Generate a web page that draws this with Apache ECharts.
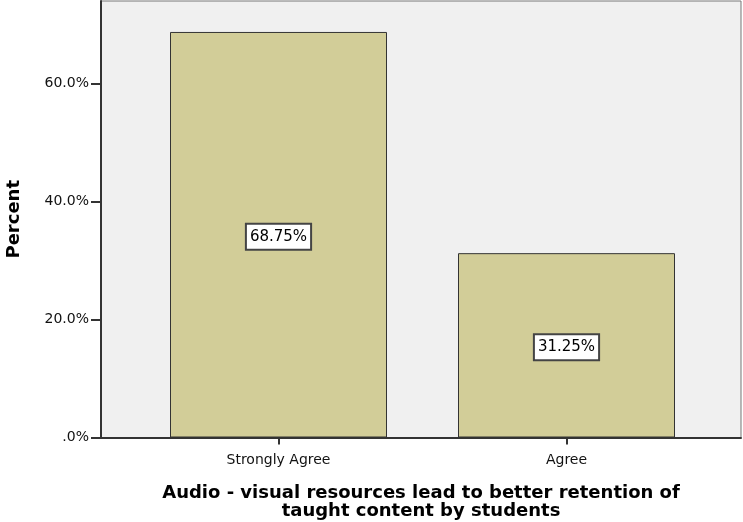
<!DOCTYPE html>
<html lang="en">
<head>
    <meta charset="UTF-8">
    <title>Audio - visual resources</title>
    <script type="text/javascript" src="https://cdn.jsdelivr.net/npm/echarts@6/dist/echarts.min.js"></script>
</head>
<body style="margin:0">
<div id="chartmain" style="width:743px;height:522px"></div>
<script>
    var categories = ['Strongly Agree', 'Agree'];
    var percents = [68.75, 31.25];
    var yTicks = [0, 20, 40, 60];

    var axisColor = '#333';
    var font = 'DejaVu Sans';

    var option = {
        animation: false,
        backgroundColor: '#fff',
        grid: [
            {left: 101, right: 2, top: 1, bottom: 84.5, show: true, containLabel: false, outerBoundsMode: 'none',
             backgroundColor: '#f0f0f0', borderColor: '#777', borderWidth: 1},
            {left: 134.5, width: 576, top: 1, bottom: 84.5, containLabel: false, outerBoundsMode: 'none'}
        ],
        xAxis: [
            {
                gridIndex: 0, type: 'value', min: 0, max: 1,
                axisLine: {show: true, lineStyle: {color: axisColor, width: 2}},
                axisTick: {show: false}, axisLabel: {show: false}, splitLine: {show: false},
                name: 'Audio - visual resources lead to better retention of\ntaught content by students',
                nameLocation: 'middle', nameGap: 47,
                nameTextStyle: {fontFamily: font, fontSize: 18, fontWeight: 'bold', color: '#000', lineHeight: 18}
            },
            {
                gridIndex: 1, type: 'category', data: categories,
                axisLine: {show: false},
                axisTick: {show: true, alignWithLabel: true, length: 7, lineStyle: {color: axisColor, width: 2}},
                axisLabel: {fontFamily: font, fontSize: 14, color: '#111', margin: 16}
            }
        ],
        yAxis: [
            {
                gridIndex: 0, type: 'value', min: 0, max: 74,
                axisLine: {show: true, lineStyle: {color: axisColor, width: 2}},
                axisTick: {show: true, length: 10, customValues: yTicks, lineStyle: {color: axisColor, width: 2}},
                axisLabel: {
                    customValues: yTicks, fontFamily: font, fontSize: 14, color: '#111', margin: 12,
                    formatter: function (v) { return v === 0 ? '.0%' : v.toFixed(1) + '%'; }
                },
                splitLine: {show: false},
                name: 'Percent', nameLocation: 'middle', nameGap: 78,
                nameTextStyle: {fontFamily: font, fontSize: 18, fontWeight: 'bold', color: '#000'}
            },
            {gridIndex: 1, type: 'value', min: 0, max: 74, show: false}
        ],
        series: [
            {
                type: 'bar', xAxisIndex: 1, yAxisIndex: 1,
                data: percents, barWidth: 217,
                itemStyle: {color: '#d2cd98', borderColor: '#333', borderWidth: 1},
                label: {
                    show: true, position: 'inside', offset: [0, 2],
                    formatter: function (p) { return p.value.toFixed(2) + '%'; },
                    fontFamily: font, fontSize: 15, color: '#000',
                    backgroundColor: '#fff', borderColor: '#444', borderWidth: 2,
                    padding: [5, 3, 4, 3]
                }
            }
        ]
    };

    var myChart = echarts.init(document.getElementById('chartmain'));
    myChart.setOption(option);
</script>
</body>
</html>
